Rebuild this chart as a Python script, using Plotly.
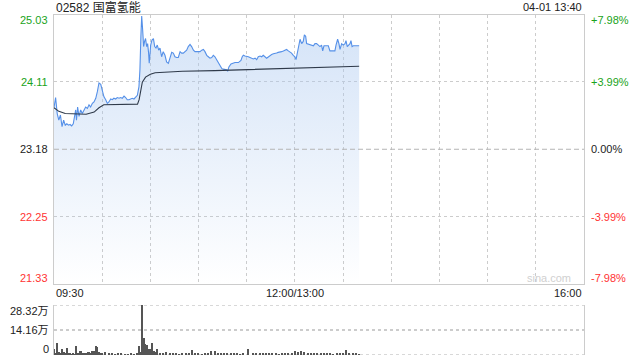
import plotly.graph_objects as go

# ---------------- data ----------------
title_text = "02582 国富氢能"
stamp_text = "04-01 13:40"
prev_close = 23.18

# trading minutes since 09:30 (12:00-13:00 break removed)
price_min = [0, 1, 2, 3, 4, 5, 6, 7, 8, 9, 10, 11, 12, 13.5, 14, 14.7, 15.6, 16.6, 17.6, 18.7,
             19.7, 20.8, 21.8, 22.8, 23.9, 24.9, 26, 27, 28, 29.1, 30.1, 31.1, 32.2, 33.2, 34.2,
             35.3, 36.3, 37.3, 38.4, 39.4, 40.5, 41.5, 42.5, 43.6, 44.6, 45.6, 46.7, 47.7, 48.7,
             49.8, 50.8, 51.9, 52.9, 53.5, 54.1, 54.6, 55.2, 55.8, 56.4, 57, 57.7, 58.3, 58.9,
             59.3, 60.2, 61, 61.9, 62.7, 63.5, 64.3, 65.2, 66, 67, 68, 69.1, 70.1, 71.2, 72.2,
             73.3, 74.3, 75.3, 76.4, 77.4, 78.5, 79.5, 80.5, 81.6, 82.6, 83.6, 84.7, 85.7, 86.8,
             87.8, 88.8, 89.9, 90.9, 92, 93, 94, 95.1, 96.1, 97.1, 98.2, 99.2, 100.2, 101.3,
             102.3, 103.4, 104.4, 105.4, 106.5, 107.5, 108.1, 108.9, 110.2, 111.6, 112.7, 114.8,
             116.4, 117.2, 117.9, 118.9, 120, 121, 122, 123.1, 124.1, 125.2, 126.2, 127.2, 128.3,
             129.3, 130.3, 132.4, 133.4, 134.5, 135.5, 136.6, 137.6, 138.6, 139.6, 140.7, 141.7,
             142.8, 143.8, 144.8, 145.9, 146.9, 147.9, 149, 150, 150.7, 151.5, 152.5, 153.2,
             154.2, 155.2, 155.9, 156.7, 157.3, 158.4, 159.4, 160.4, 161.5, 162.5, 163.5, 164.6,
             165.6, 166.6, 167.3, 168.1, 169.3, 170.8, 171.8, 173.9, 174.9, 175.6, 176.6, 177.4,
             178.1, 179.1, 180.1, 181.2, 181.8, 182.6, 183.3, 184.3, 184.9, 185.6, 186.4, 188.5,
             190]
price_val = [23.75, 23.89, 23.67, 23.58, 23.65, 23.49, 23.58, 23.51, 23.53, 23.51, 23.52, 23.50,
             23.53, 23.72, 23.58, 23.76, 23.63, 23.72, 23.67, 23.72, 23.76, 23.74, 23.79, 23.76,
             23.81, 23.83, 23.88, 23.97, 24.09, 24.07, 23.97, 23.90, 23.86, 23.81, 23.83, 23.87,
             23.86, 23.88, 23.87, 23.89, 23.88, 23.89, 23.88, 23.91, 23.89, 23.86, 23.86, 23.87,
             23.88, 23.87, 23.89, 23.92, 24.04, 24.27, 24.73, 25.01, 24.82, 24.59, 24.66, 24.70,
             24.59, 24.63, 24.50, 24.36, 24.61, 24.68, 24.70, 24.59, 24.57, 24.61, 24.54, 24.57,
             24.45, 24.52, 24.47, 24.38, 24.36, 24.45, 24.51, 24.50, 24.45, 24.44, 24.44, 24.52,
             24.50, 24.50, 24.52, 24.54, 24.59, 24.62, 24.59, 24.54, 24.52, 24.52, 24.52, 24.52,
             24.54, 24.55, 24.52, 24.47, 24.45, 24.43, 24.44, 24.47, 24.45, 24.41, 24.38, 24.34,
             24.29, 24.28, 24.28, 24.27, 24.25, 24.31, 24.35, 24.36, 24.37, 24.37, 24.40, 24.45,
             24.47, 24.46, 24.46, 24.45, 24.44, 24.43, 24.42, 24.43, 24.41, 24.45, 24.46, 24.45,
             24.47, 24.43, 24.45, 24.47, 24.48, 24.49, 24.49, 24.50, 24.51, 24.51, 24.52, 24.53,
             24.54, 24.55, 24.53, 24.52, 24.50, 24.47, 24.45, 24.41, 24.50, 24.58, 24.69, 24.63,
             24.66, 24.75, 24.73, 24.63, 24.62, 24.61, 24.60, 24.60, 24.63, 24.63, 24.61, 24.59,
             24.61, 24.53, 24.60, 24.60, 24.60, 24.53, 24.53, 24.53, 24.61, 24.69, 24.63, 24.55,
             24.63, 24.61, 24.63, 24.67, 24.59, 24.61, 24.63, 24.67, 24.59, 24.60, 24.60, 24.60]

avg_min = [0, 3, 7, 20, 25, 28, 31, 45, 52, 53, 54, 55, 57, 60, 63, 80, 100, 130, 160, 190]
avg_val = [23.75, 23.70, 23.67, 23.66, 23.69, 23.75, 23.79, 23.80, 23.80, 23.86, 23.98, 24.10,
           24.17, 24.21, 24.23, 24.25, 24.26, 24.28, 24.30, 24.32]

# volume in 万 (10k shares), one bar per listed minute
vol_min = [0, 1, 2, 3, 4, 5, 6, 7, 8, 9, 10, 11, 12, 13, 14, 15, 16, 17, 18, 19, 20, 21, 22, 23,
           24, 25, 26, 27, 28, 29, 30, 32, 34, 36, 38, 40, 42, 44, 46, 48, 50, 52, 53, 54, 55, 56,
           57, 58, 59, 60, 61, 62, 63, 64, 66, 68, 70, 72, 74, 76, 78, 80, 82, 84, 86, 88, 90, 92,
           94, 96, 98, 100, 102, 104, 106, 108, 110, 112, 114, 116, 118, 121, 124, 126, 128, 130,
           132, 134, 136, 138, 140, 142, 144, 146, 148, 150, 152, 154, 156, 158, 160, 162, 164,
           166, 168, 170, 172, 174, 176, 178, 180, 182, 184, 186, 188, 190]
vol_val = [3.4, 1.0, 7.0, 1.9, 1.3, 3.2, 1.9, 0.9, 3.8, 0.9, 0.6, 0.5, 0.6, 0.4, 5.1, 1.3, 2.3,
           2.3, 0.8, 0.9, 1.3, 1.8, 1.9, 1.3, 2.5, 2.5, 5.1, 4.3, 1.9, 0.8, 1.0, 1.5, 0.8, 0.6,
           0.5, 0.6, 0.7, 0.5, 0.4, 0.6, 0.5, 0.7, 5.1, 1.5, 28.32, 9.4, 6.2, 5.7, 3.2, 3.2, 7.0,
           2.5, 1.9, 3.2, 0.8, 0.6, 1.5, 0.6, 1.3, 0.8, 0.5, 0.7, 0.6, 0.8, 2.8, 0.6, 0.7, 0.5,
           0.6, 0.8, 2.1, 2.1, 0.6, 1.0, 0.8, 0.6, 0.8, 0.6, 0.7, 0.5, 0.8, 3.4, 0.7, 0.6, 0.9,
           0.8, 0.6, 1.0, 0.7, 0.6, 0.5, 0.6, 0.8, 1.3, 1.0, 2.0, 1.9, 2.1, 1.5, 0.7, 1.0, 0.8,
           1.3, 0.8, 0.6, 1.0, 0.6, 0.5, 0.8, 0.7, 0.6, 2.8, 1.0, 0.8, 0.6, 0.5]

price_ticks = [25.03, 24.11, 23.18, 22.25, 21.33]
price_labels = ["25.03", "24.11", "23.18", "22.25", "21.33"]
pct_labels = ["+7.98%", "+3.99%", "0.00%", "-3.99%", "-7.98%"]
label_colors = ["#1aa31a", "#1aa31a", "#222222", "#ff3333", "#ff3333"]
vol_ticks = [28.32, 14.16, 0]
vol_labels = ["28.32万", "14.16万", "0"]
time_ticks = [0, 150, 330]
time_labels = ["09:30", "12:00/13:00", "16:00"]

# ---------------- figure ----------------
FONT = "Liberation Sans, Arial, Noto Sans CJK SC, sans-serif"
fig = go.Figure()

fig.add_trace(go.Scatter(
    x=price_min, y=price_val, mode="lines",
    line=dict(color="#5590e8", width=1.1),
    fill="tozeroy",
    fillgradient=dict(type="vertical", start=21.33, stop=25.03,
                      colorscale=[[0, "rgba(170,200,240,0.0)"], [1, "rgba(170,200,240,0.52)"]]),
    xaxis="x", yaxis="y", hoverinfo="skip", showlegend=False))

# previous close reference line (dashed)
fig.add_trace(go.Scatter(
    x=[0, 330], y=[prev_close, prev_close], mode="lines",
    line=dict(color="#b4b4b4", width=1, dash="5px,3px"),
    xaxis="x", yaxis="y", hoverinfo="skip", showlegend=False))

fig.add_trace(go.Scatter(
    x=avg_min, y=avg_val, mode="lines",
    line=dict(color="#2f3a4a", width=1.1),
    xaxis="x", yaxis="y", hoverinfo="skip", showlegend=False))

fig.add_trace(go.Bar(
    x=vol_min, y=vol_val, width=0.7, marker=dict(color="#555555", line=dict(width=0)),
    xaxis="x2", yaxis="y2", hoverinfo="skip", showlegend=False))

xdom = [54 / 640, 584 / 640]
grid_x = list(range(0, 331, 30))

fig.update_layout(
    width=640, height=360, margin=dict(l=0, r=0, t=0, b=0),
    paper_bgcolor="white", plot_bgcolor="rgba(0,0,0,0)",
    font=dict(family=FONT, size=11, color="#222"),
    bargap=0,
    xaxis=dict(domain=xdom, range=[0, 330], tickvals=grid_x, showticklabels=False,
               showgrid=True, gridcolor="#cccccc", griddash="dot", gridwidth=1,
               showline=True, linecolor="#cccccc", mirror=True, zeroline=False, ticks=""),
    yaxis=dict(domain=[1 - 284 / 360, 1 - 14.5 / 360], range=[21.33, 25.03],
               tickvals=[24.11, 22.25], showticklabels=False,
               showgrid=True, gridcolor="#cccccc", griddash="dot", gridwidth=1,
               showline=True, linecolor="#cccccc", mirror=True, zeroline=False, ticks=""),
    xaxis2=dict(domain=xdom, range=[0, 330], anchor="y2", showticklabels=False,
                showgrid=False, showline=False, zeroline=False, ticks=""),
    yaxis2=dict(domain=[1 - 355 / 360, 1 - 305 / 360], range=[0, 28.32], anchor="x2",
                tickvals=vol_ticks, showticklabels=False,
                showgrid=True, gridcolor="#cccccc", griddash="dot", gridwidth=1.5,
                showline=True, linecolor="#cccccc", mirror=True, zeroline=False, ticks=""),
)

# volume top and baseline (dotted)
for yv in (0, 28.32):
    fig.add_shape(type="line", xref="x2 domain", yref="y2", x0=0, x1=1, y0=yv, y1=yv,
                  line=dict(color="#cccccc", width=1.5, dash="dot"), layer="below")

# price / percent labels
shifts = [-6, 0, 0, 0, 6]
for v, t, p, c, s in zip(price_ticks, price_labels, pct_labels, label_colors, shifts):
    fig.add_annotation(xref="paper", yref="y", x=50 / 640, y=v, text=t, showarrow=False,
                       xanchor="right", yanchor="middle", yshift=s,
                       font=dict(family=FONT, size=11, color=c))
    fig.add_annotation(xref="paper", yref="y", x=589 / 640, y=v, text=p, showarrow=False,
                       xanchor="left", yanchor="middle", yshift=s,
                       font=dict(family=FONT, size=11, color=c))

# volume labels
vshift = [-6, 0, 6]
for v, t, s in zip(vol_ticks, vol_labels, vshift):
    fig.add_annotation(xref="paper", yref="y2", x=51 / 640, y=v, text=t, showarrow=False,
                       xanchor="right", yanchor="middle", yshift=s,
                       font=dict(family=FONT, size=11, color="#222"))

# time labels
anchors = ["left", "center", "right"]
for v, t, a in zip(time_ticks, time_labels, anchors):
    fig.add_annotation(xref="x", yref="paper", x=v, y=1 - 293 / 360, text=t, showarrow=False,
                       xanchor=a, yanchor="middle",
                       font=dict(family=FONT, size=11, color="#222"))

# title and timestamp
fig.add_annotation(xref="paper", yref="paper", x=54 / 640, y=1 - 7 / 360, text=title_text,
                   showarrow=False, xanchor="left", yanchor="middle",
                   font=dict(family=FONT, size=12, color="#222"))
fig.add_annotation(xref="paper", yref="paper", x=584 / 640, y=1 - 7 / 360, text=stamp_text,
                   showarrow=False, xanchor="right", yanchor="middle",
                   font=dict(family=FONT, size=11, color="#222"))
# watermark
fig.add_annotation(xref="paper", yref="paper", x=573 / 640, y=1 - 278 / 360, text="sina.com",
                   showarrow=False, xanchor="right", yanchor="middle",
                   font=dict(family=FONT, size=11, color="#d0d0d0"))

fig.write_html("out.html")
